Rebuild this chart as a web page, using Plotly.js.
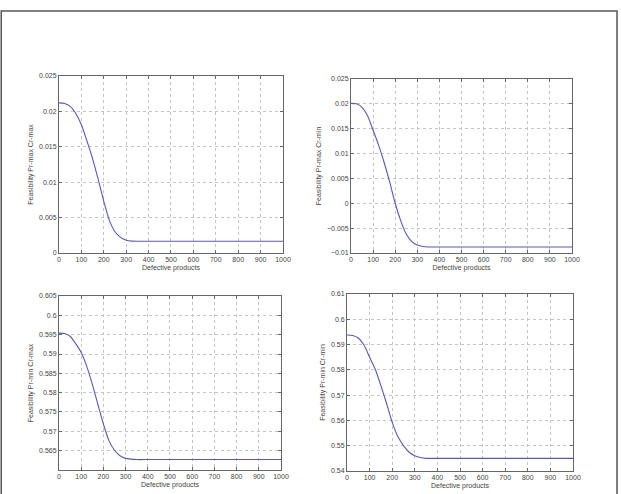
<!DOCTYPE html>
<html>
<head>
<meta charset="utf-8">
<script src="https://cdn.plot.ly/plotly-3.0.1.min.js"></script>
<style>html,body{margin:0;padding:0;background:#fff;}#chart{width:621px;height:494px;}</style>
</head>
<body>
<div id="chart"></div>
<script>
// Defective products (x) shared by all four panels
var defects = [0,25,50,75,100,125,150,175,200,225,250,275,300,325,350,400,500,600,700,800,900,1000];

// Feasibility Pr-max Cr-max
var prMaxCrMax = [0.0212,0.0211,0.0207,0.0197,0.0181,0.0158,0.0133,0.0104,0.0073,0.0046,0.0030,0.0022,0.0018,0.00168,0.00165,0.00165,0.00165,0.00165,0.00165,0.00165,0.00165,0.00165];
// Feasibility Pr-max Cr-min
var prMaxCrMin = [0.0201,0.0200,0.0193,0.0176,0.0147,0.0117,0.0082,0.0043,0.0000,-0.0035,-0.0062,-0.0077,-0.0084,-0.0087,-0.0088,-0.0088,-0.0088,-0.0088,-0.0088,-0.0088,-0.0088,-0.0088];
// Feasibility Pr-min Cr-max
var prMinCrMax = [0.5954,0.5953,0.5946,0.5927,0.5904,0.5868,0.5822,0.5770,0.5719,0.5676,0.5651,0.5637,0.5630,0.5628,0.5627,0.5627,0.5627,0.5627,0.5627,0.5627,0.5627,0.5627];
// Feasibility Pr-min Cr-min
var prMinCrMin = [0.5938,0.5936,0.5926,0.5898,0.5850,0.5802,0.5737,0.5667,0.5592,0.5536,0.5500,0.5474,0.5460,0.5453,0.5450,0.5450,0.5450,0.5450,0.5450,0.5450,0.5450,0.5450];

// Tick labels
var xTicks = [0,100,200,300,400,500,600,700,800,900,1000];
var yTicks1 = [0,0.005,0.01,0.015,0.02,0.025];
var yTicks2 = [-0.01,-0.005,0,0.005,0.01,0.015,0.02,0.025];
var yTicks3 = [0.565,0.57,0.575,0.58,0.585,0.59,0.595,0.6,0.605];
var yTicks4 = [0.54,0.55,0.56,0.57,0.58,0.59,0.6,0.61];

var xTitle = "Defective products";
var yTitles = ["Feasibility Pr-max Cr-max","Feasibility Pr-max Cr-min","Feasibility Pr-min Cr-max","Feasibility Pr-min Cr-min"];

var lineStyle = {color:'#5858bc', width:1.1, shape:'spline', smoothing:0.6};
function tr(y, xa, ya){ return {x:defects, y:y, xaxis:xa, yaxis:ya, mode:'lines', line:lineStyle, hoverinfo:'skip', showlegend:false}; }

var font = {family:'"Liberation Sans", Arial, sans-serif', size:7, color:'#444'};
function xax(domain, anchor){
  return {domain:domain, anchor:anchor, range:[0,1000], tickvals:xTicks, ticks:'inside', ticklen:3, tickcolor:'#666',
    showline:true, linecolor:'#666', linewidth:1, mirror:'allticks', showgrid:true, gridcolor:'#c4c4c4', griddash:'dot', gridwidth:1,
    zeroline:false, tickfont:font, title:{text:xTitle, font:font, standoff:2}};
}
function yax(domain, anchor, range, ticks, title){
  return {domain:domain, anchor:anchor, range:range, tickvals:ticks, ticks:'inside', ticklen:3, tickcolor:'#666',
    showline:true, linecolor:'#666', linewidth:1, mirror:'allticks', showgrid:true, gridcolor:'#c4c4c4', griddash:'dot', gridwidth:1,
    zeroline:false, tickfont:font, title:{text:title, font:font, standoff:4}};
}

var data = [tr(prMaxCrMax,'x','y'), tr(prMaxCrMin,'x2','y2'), tr(prMinCrMax,'x3','y3'), tr(prMinCrMin,'x4','y4')];

var layout = {
  width:621, height:494, margin:{l:0,r:0,t:0,b:0}, paper_bgcolor:'#fff', plot_bgcolor:'#fff',
  font:font,
  xaxis: xax([0.095,0.4557],'y'),
  yaxis: yax([0.4879,0.8462],'x',[0,0.025],yTicks1,yTitles[0]),
  xaxis2: xax([0.5652,0.9211],'y2'),
  yaxis2: yax([0.4879,0.8401],'x2',[-0.01,0.025],yTicks2,yTitles[1]),
  xaxis3: xax([0.095,0.4525],'y3'),
  yaxis3: yax([0.0486,0.4008],'x3',[0.56,0.605],yTicks3,yTitles[2]),
  xaxis4: xax([0.5588,0.9227],'y4'),
  yaxis4: yax([0.0466,0.4049],'x4',[0.54,0.61],yTicks4,yTitles[3]),
  shapes:[{type:'rect', xref:'paper', yref:'paper', x0:0.002, x1:0.9936, y0:-0.05, y1:0.9777, line:{color:'#555', width:1.5}}]
};

Plotly.newPlot('chart', data, layout, {staticPlot:true, displayModeBar:false});
</script>
</body>
</html>
